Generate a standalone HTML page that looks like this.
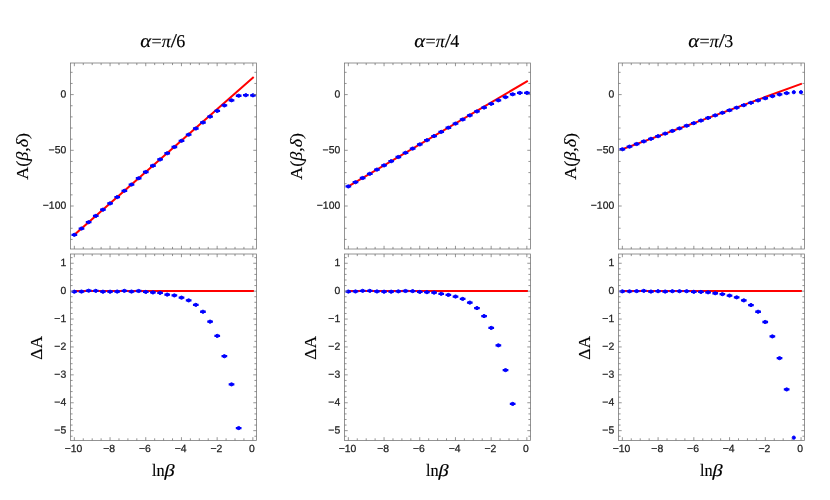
<!DOCTYPE html>
<html><head><meta charset="utf-8"><title>plot</title>
<style>html,body{margin:0;padding:0;background:#fff;}svg{display:block;will-change:transform;}</style>
</head><body>
<svg width="830" height="500" viewBox="0 0 830 500">
<rect width="830" height="500" fill="#fff"/>
<clipPath id="ct0"><rect x="70.5" y="63.0" width="186.0" height="186.0"/></clipPath>
<clipPath id="cb0"><rect x="70.5" y="254.0" width="186.0" height="186.39999999999998"/></clipPath>
<g clip-path="url(#ct0)">
<line x1="74.35" y1="234.80" x2="252.95" y2="77.70" stroke="#f00" stroke-width="2.0" stroke-linecap="square"/>
<g fill="#00f" stroke="#00f">
<circle cx="74.35" cy="234.82" r="1.6"/><path d="M71.50 234.82h5.7" stroke-width="2.3"/>
<circle cx="81.49" cy="228.53" r="1.6"/><path d="M78.64 228.53h5.7" stroke-width="2.3"/>
<circle cx="88.64" cy="222.22" r="1.6"/><path d="M85.79 222.22h5.7" stroke-width="2.3"/>
<circle cx="95.78" cy="215.94" r="1.6"/><path d="M92.93 215.94h5.7" stroke-width="2.3"/>
<circle cx="102.93" cy="209.69" r="1.6"/><path d="M100.08 209.69h5.7" stroke-width="2.3"/>
<circle cx="110.07" cy="203.40" r="1.6"/><path d="M107.22 203.40h5.7" stroke-width="2.3"/>
<circle cx="117.21" cy="197.11" r="1.6"/><path d="M114.36 197.11h5.7" stroke-width="2.3"/>
<circle cx="124.36" cy="190.80" r="1.6"/><path d="M121.51 190.80h5.7" stroke-width="2.3"/>
<circle cx="131.50" cy="184.55" r="1.6"/><path d="M128.65 184.55h5.7" stroke-width="2.3"/>
<circle cx="138.65" cy="178.24" r="1.6"/><path d="M135.80 178.24h5.7" stroke-width="2.3"/>
<circle cx="145.79" cy="171.99" r="1.6"/><path d="M142.94 171.99h5.7" stroke-width="2.3"/>
<circle cx="152.93" cy="165.73" r="1.6"/><path d="M150.08 165.73h5.7" stroke-width="2.3"/>
<circle cx="160.08" cy="159.46" r="1.6"/><path d="M157.23 159.46h5.7" stroke-width="2.3"/>
<circle cx="167.22" cy="153.25" r="1.6"/><path d="M164.37 153.25h5.7" stroke-width="2.3"/>
<circle cx="174.37" cy="147.00" r="1.6"/><path d="M171.52 147.00h5.7" stroke-width="2.3"/>
<circle cx="181.51" cy="140.80" r="1.6"/><path d="M178.66 140.80h5.7" stroke-width="2.3"/>
<circle cx="188.65" cy="134.63" r="1.6"/><path d="M185.80 134.63h5.7" stroke-width="2.3"/>
<circle cx="195.80" cy="128.52" r="1.6"/><path d="M192.95 128.52h5.7" stroke-width="2.3"/>
<circle cx="202.94" cy="122.51" r="1.6"/><path d="M200.09 122.51h5.7" stroke-width="2.3"/>
<circle cx="210.09" cy="116.62" r="1.6"/><path d="M207.24 116.62h5.7" stroke-width="2.3"/>
<circle cx="217.23" cy="110.91" r="1.6"/><path d="M214.38 110.91h5.7" stroke-width="2.3"/>
<circle cx="224.37" cy="105.44" r="1.6"/><path d="M221.52 105.44h5.7" stroke-width="2.3"/>
<circle cx="231.52" cy="100.28" r="1.6"/><path d="M228.67 100.28h5.7" stroke-width="2.3"/>
<circle cx="238.66" cy="95.74" r="1.6"/><path d="M235.81 95.74h5.7" stroke-width="2.3"/>
<circle cx="245.81" cy="95.20" r="1.6"/><path d="M242.96 95.20h5.7" stroke-width="2.3"/>
<circle cx="252.95" cy="95.30" r="1.6"/><path d="M250.10 95.30h5.7" stroke-width="2.3"/>
</g></g>
<g clip-path="url(#cb0)">
<line x1="74.35" y1="291.1" x2="252.95" y2="291.1" stroke="#f00" stroke-width="2.0" stroke-linecap="square"/>
<g fill="#00f" stroke="#00f">
<circle cx="74.35" cy="291.71" r="1.6"/><path d="M71.50 291.71h5.7" stroke-width="2.3"/>
<circle cx="81.49" cy="291.57" r="1.6"/><path d="M78.64 291.57h5.7" stroke-width="2.3"/>
<circle cx="88.64" cy="290.74" r="1.6"/><path d="M85.79 290.74h5.7" stroke-width="2.3"/>
<circle cx="95.78" cy="290.85" r="1.6"/><path d="M92.93 290.85h5.7" stroke-width="2.3"/>
<circle cx="102.93" cy="291.71" r="1.6"/><path d="M100.08 291.71h5.7" stroke-width="2.3"/>
<circle cx="110.07" cy="291.71" r="1.6"/><path d="M107.22 291.71h5.7" stroke-width="2.3"/>
<circle cx="117.21" cy="291.57" r="1.6"/><path d="M114.36 291.57h5.7" stroke-width="2.3"/>
<circle cx="124.36" cy="290.85" r="1.6"/><path d="M121.51 290.85h5.7" stroke-width="2.3"/>
<circle cx="131.50" cy="291.57" r="1.6"/><path d="M128.65 291.57h5.7" stroke-width="2.3"/>
<circle cx="138.65" cy="290.99" r="1.6"/><path d="M135.80 290.99h5.7" stroke-width="2.3"/>
<circle cx="145.79" cy="291.93" r="1.6"/><path d="M142.94 291.93h5.7" stroke-width="2.3"/>
<circle cx="152.93" cy="292.43" r="1.6"/><path d="M150.08 292.43h5.7" stroke-width="2.3"/>
<circle cx="160.08" cy="292.87" r="1.6"/><path d="M157.23 292.87h5.7" stroke-width="2.3"/>
<circle cx="167.22" cy="294.62" r="1.6"/><path d="M164.37 294.62h5.7" stroke-width="2.3"/>
<circle cx="174.37" cy="295.42" r="1.6"/><path d="M171.52 295.42h5.7" stroke-width="2.3"/>
<circle cx="181.51" cy="297.66" r="1.6"/><path d="M178.66 297.66h5.7" stroke-width="2.3"/>
<circle cx="188.65" cy="300.38" r="1.6"/><path d="M185.80 300.38h5.7" stroke-width="2.3"/>
<circle cx="195.80" cy="304.87" r="1.6"/><path d="M192.95 304.87h5.7" stroke-width="2.3"/>
<circle cx="202.94" cy="311.74" r="1.6"/><path d="M200.09 311.74h5.7" stroke-width="2.3"/>
<circle cx="210.09" cy="321.65" r="1.6"/><path d="M207.24 321.65h5.7" stroke-width="2.3"/>
<circle cx="217.23" cy="335.89" r="1.6"/><path d="M214.38 335.89h5.7" stroke-width="2.3"/>
<circle cx="224.37" cy="356.22" r="1.6"/><path d="M221.52 356.22h5.7" stroke-width="2.3"/>
<circle cx="231.52" cy="384.37" r="1.6"/><path d="M228.67 384.37h5.7" stroke-width="2.3"/>
<circle cx="238.66" cy="428.05" r="1.6"/><path d="M235.81 428.05h5.7" stroke-width="2.3"/>
</g></g>
<rect x="70.5" y="63.0" width="186.0" height="186.0" fill="none" stroke="#707070" stroke-width="0.75"/>
<path d="M74.35 63.0v3.2M74.35 249.0v-3.2M83.27 63.0v2.1M83.27 249.0v-2.1M92.20 63.0v2.1M92.20 249.0v-2.1M101.12 63.0v2.1M101.12 249.0v-2.1M110.05 63.0v3.2M110.05 249.0v-3.2M118.97 63.0v2.1M118.97 249.0v-2.1M127.90 63.0v2.1M127.90 249.0v-2.1M136.82 63.0v2.1M136.82 249.0v-2.1M145.75 63.0v3.2M145.75 249.0v-3.2M154.68 63.0v2.1M154.68 249.0v-2.1M163.60 63.0v2.1M163.60 249.0v-2.1M172.53 63.0v2.1M172.53 249.0v-2.1M181.45 63.0v3.2M181.45 249.0v-3.2M190.38 63.0v2.1M190.38 249.0v-2.1M199.30 63.0v2.1M199.30 249.0v-2.1M208.22 63.0v2.1M208.22 249.0v-2.1M217.15 63.0v3.2M217.15 249.0v-3.2M226.08 63.0v2.1M226.08 249.0v-2.1M235.00 63.0v2.1M235.00 249.0v-2.1M243.93 63.0v2.1M243.93 249.0v-2.1M252.85 63.0v3.2M252.85 249.0v-3.2M70.5 239.42h2.1M256.5 239.42h-2.1M70.5 228.28h2.1M256.5 228.28h-2.1M70.5 217.14h2.1M256.5 217.14h-2.1M70.5 206.00h3.2M256.5 206.00h-3.2M70.5 194.86h2.1M256.5 194.86h-2.1M70.5 183.72h2.1M256.5 183.72h-2.1M70.5 172.58h2.1M256.5 172.58h-2.1M70.5 161.44h2.1M256.5 161.44h-2.1M70.5 150.30h3.2M256.5 150.30h-3.2M70.5 139.16h2.1M256.5 139.16h-2.1M70.5 128.02h2.1M256.5 128.02h-2.1M70.5 116.88h2.1M256.5 116.88h-2.1M70.5 105.74h2.1M256.5 105.74h-2.1M70.5 94.60h3.2M256.5 94.60h-3.2M70.5 83.46h2.1M256.5 83.46h-2.1M70.5 72.32h2.1M256.5 72.32h-2.1" stroke="#707070" stroke-width="0.75" fill="none"/>
<rect x="70.5" y="254.0" width="186.0" height="186.39999999999998" fill="none" stroke="#707070" stroke-width="0.75"/>
<path d="M74.35 254.0v3.2M74.35 440.4v-3.2M83.27 254.0v2.1M83.27 440.4v-2.1M92.20 254.0v2.1M92.20 440.4v-2.1M101.12 254.0v2.1M101.12 440.4v-2.1M110.05 254.0v3.2M110.05 440.4v-3.2M118.97 254.0v2.1M118.97 440.4v-2.1M127.90 254.0v2.1M127.90 440.4v-2.1M136.82 254.0v2.1M136.82 440.4v-2.1M145.75 254.0v3.2M145.75 440.4v-3.2M154.68 254.0v2.1M154.68 440.4v-2.1M163.60 254.0v2.1M163.60 440.4v-2.1M172.53 254.0v2.1M172.53 440.4v-2.1M181.45 254.0v3.2M181.45 440.4v-3.2M190.38 254.0v2.1M190.38 440.4v-2.1M199.30 254.0v2.1M199.30 440.4v-2.1M208.22 254.0v2.1M208.22 440.4v-2.1M217.15 254.0v3.2M217.15 440.4v-3.2M226.08 254.0v2.1M226.08 440.4v-2.1M235.00 254.0v2.1M235.00 440.4v-2.1M243.93 254.0v2.1M243.93 440.4v-2.1M252.85 254.0v3.2M252.85 440.4v-3.2M70.5 436.23h2.1M256.5 436.23h-2.1M70.5 430.65h3.2M256.5 430.65h-3.2M70.5 425.07h2.1M256.5 425.07h-2.1M70.5 419.49h2.1M256.5 419.49h-2.1M70.5 413.91h2.1M256.5 413.91h-2.1M70.5 408.33h2.1M256.5 408.33h-2.1M70.5 402.75h3.2M256.5 402.75h-3.2M70.5 397.17h2.1M256.5 397.17h-2.1M70.5 391.59h2.1M256.5 391.59h-2.1M70.5 386.01h2.1M256.5 386.01h-2.1M70.5 380.43h2.1M256.5 380.43h-2.1M70.5 374.85h3.2M256.5 374.85h-3.2M70.5 369.27h2.1M256.5 369.27h-2.1M70.5 363.69h2.1M256.5 363.69h-2.1M70.5 358.11h2.1M256.5 358.11h-2.1M70.5 352.53h2.1M256.5 352.53h-2.1M70.5 346.95h3.2M256.5 346.95h-3.2M70.5 341.37h2.1M256.5 341.37h-2.1M70.5 335.79h2.1M256.5 335.79h-2.1M70.5 330.21h2.1M256.5 330.21h-2.1M70.5 324.63h2.1M256.5 324.63h-2.1M70.5 319.05h3.2M256.5 319.05h-3.2M70.5 313.47h2.1M256.5 313.47h-2.1M70.5 307.89h2.1M256.5 307.89h-2.1M70.5 302.31h2.1M256.5 302.31h-2.1M70.5 296.73h2.1M256.5 296.73h-2.1M70.5 291.15h3.2M256.5 291.15h-3.2M70.5 285.57h2.1M256.5 285.57h-2.1M70.5 279.99h2.1M256.5 279.99h-2.1M70.5 274.41h2.1M256.5 274.41h-2.1M70.5 268.83h2.1M256.5 268.83h-2.1M70.5 263.25h3.2M256.5 263.25h-3.2M70.5 257.67h2.1M256.5 257.67h-2.1" stroke="#707070" stroke-width="0.75" fill="none"/>
<g font-family="Liberation Sans, sans-serif" font-size="10.4" fill="#222" stroke="#222" stroke-width="0.25">
<text transform="translate(66.20,97.45) rotate(0.05)" text-anchor="end">0</text>
<text transform="translate(66.20,153.15) rotate(0.05)" text-anchor="end">−50</text>
<text transform="translate(66.20,208.85) rotate(0.05)" text-anchor="end">−100</text>
<text transform="translate(66.20,266.10) rotate(0.05)" text-anchor="end">1</text>
<text transform="translate(66.20,294.00) rotate(0.05)" text-anchor="end">0</text>
<text transform="translate(66.20,321.90) rotate(0.05)" text-anchor="end">−1</text>
<text transform="translate(66.20,349.80) rotate(0.05)" text-anchor="end">−2</text>
<text transform="translate(66.20,377.70) rotate(0.05)" text-anchor="end">−3</text>
<text transform="translate(66.20,405.60) rotate(0.05)" text-anchor="end">−4</text>
<text transform="translate(66.20,433.50) rotate(0.05)" text-anchor="end">−5</text>
<text transform="translate(73.50,452.10) rotate(0.05)" text-anchor="middle">−10</text>
<text transform="translate(109.20,452.10) rotate(0.05)" text-anchor="middle">−8</text>
<text transform="translate(144.90,452.10) rotate(0.05)" text-anchor="middle">−6</text>
<text transform="translate(180.60,452.10) rotate(0.05)" text-anchor="middle">−4</text>
<text transform="translate(216.30,452.10) rotate(0.05)" text-anchor="middle">−2</text>
<text transform="translate(252.00,452.10) rotate(0.05)" text-anchor="middle">0</text>
</g>
<g font-family="Liberation Serif, serif" font-size="18" fill="#000" stroke="#000" stroke-width="0.15">
<text transform="translate(140.30,47.1) rotate(0.05) scale(1.15,1.04)" font-style="italic">α</text>
<text transform="translate(151.62,47.1) rotate(0.05)">=</text>
<text transform="translate(161.78,47.1) rotate(0.05)" font-style="italic">π</text>
<text transform="translate(170.85,47.1) rotate(0.05) scale(1.25,1.08)">/</text>
<text transform="translate(176.25,47.1) rotate(0.05)">6</text>
<text transform="translate(152.00,475.9) rotate(0.05) scale(0.9,0.97)">ln</text>
<text transform="translate(164.40,475.9) rotate(0.05) scale(1.13,0.95)" font-style="italic">β</text>
<text transform="translate(28.30,156.30) rotate(-90) scale(1.09,1)" text-anchor="middle" font-size="16.5">A(<tspan font-style="italic">β</tspan>,<tspan font-style="italic">δ</tspan>)</text>
<text transform="translate(41.70,347.90) rotate(-90) scale(1.0,1)" text-anchor="middle" font-size="17.5">ΔA</text>
</g>
<clipPath id="ct1"><rect x="344.5" y="63.0" width="186.0" height="186.0"/></clipPath>
<clipPath id="cb1"><rect x="344.5" y="254.0" width="186.0" height="186.39999999999998"/></clipPath>
<g clip-path="url(#ct1)">
<line x1="348.35" y1="186.40" x2="526.95" y2="81.35" stroke="#f00" stroke-width="2.0" stroke-linecap="square"/>
<g fill="#00f" stroke="#00f">
<circle cx="348.35" cy="186.42" r="1.6"/><path d="M345.50 186.42h5.7" stroke-width="2.3"/>
<circle cx="355.49" cy="182.21" r="1.6"/><path d="M352.64 182.21h5.7" stroke-width="2.3"/>
<circle cx="362.64" cy="177.99" r="1.6"/><path d="M359.79 177.99h5.7" stroke-width="2.3"/>
<circle cx="369.78" cy="173.78" r="1.6"/><path d="M366.93 173.78h5.7" stroke-width="2.3"/>
<circle cx="376.93" cy="169.61" r="1.6"/><path d="M374.08 169.61h5.7" stroke-width="2.3"/>
<circle cx="384.07" cy="165.41" r="1.6"/><path d="M381.22 165.41h5.7" stroke-width="2.3"/>
<circle cx="391.21" cy="161.21" r="1.6"/><path d="M388.36 161.21h5.7" stroke-width="2.3"/>
<circle cx="398.36" cy="157.00" r="1.6"/><path d="M395.51 157.00h5.7" stroke-width="2.3"/>
<circle cx="405.50" cy="152.78" r="1.6"/><path d="M402.65 152.78h5.7" stroke-width="2.3"/>
<circle cx="412.65" cy="148.58" r="1.6"/><path d="M409.80 148.58h5.7" stroke-width="2.3"/>
<circle cx="419.79" cy="144.41" r="1.6"/><path d="M416.94 144.41h5.7" stroke-width="2.3"/>
<circle cx="426.93" cy="140.22" r="1.6"/><path d="M424.08 140.22h5.7" stroke-width="2.3"/>
<circle cx="434.08" cy="136.04" r="1.6"/><path d="M431.23 136.04h5.7" stroke-width="2.3"/>
<circle cx="441.22" cy="131.88" r="1.6"/><path d="M438.37 131.88h5.7" stroke-width="2.3"/>
<circle cx="448.37" cy="127.73" r="1.6"/><path d="M445.52 127.73h5.7" stroke-width="2.3"/>
<circle cx="455.51" cy="123.59" r="1.6"/><path d="M452.66 123.59h5.7" stroke-width="2.3"/>
<circle cx="462.65" cy="119.48" r="1.6"/><path d="M459.80 119.48h5.7" stroke-width="2.3"/>
<circle cx="469.80" cy="115.43" r="1.6"/><path d="M466.95 115.43h5.7" stroke-width="2.3"/>
<circle cx="476.94" cy="111.44" r="1.6"/><path d="M474.09 111.44h5.7" stroke-width="2.3"/>
<circle cx="484.09" cy="107.56" r="1.6"/><path d="M481.24 107.56h5.7" stroke-width="2.3"/>
<circle cx="491.23" cy="103.83" r="1.6"/><path d="M488.38 103.83h5.7" stroke-width="2.3"/>
<circle cx="498.37" cy="100.32" r="1.6"/><path d="M495.52 100.32h5.7" stroke-width="2.3"/>
<circle cx="505.52" cy="97.11" r="1.6"/><path d="M502.67 97.11h5.7" stroke-width="2.3"/>
<circle cx="512.66" cy="94.26" r="1.6"/><path d="M509.81 94.26h5.7" stroke-width="2.3"/>
<circle cx="519.81" cy="92.90" r="1.6"/><path d="M516.96 92.90h5.7" stroke-width="2.3"/>
<circle cx="526.95" cy="92.90" r="1.6"/><path d="M524.10 92.90h5.7" stroke-width="2.3"/>
</g></g>
<g clip-path="url(#cb1)">
<line x1="348.35" y1="291.1" x2="526.95" y2="291.1" stroke="#f00" stroke-width="2.0" stroke-linecap="square"/>
<g fill="#00f" stroke="#00f">
<circle cx="348.35" cy="291.57" r="1.6"/><path d="M345.50 291.57h5.7" stroke-width="2.3"/>
<circle cx="355.49" cy="291.46" r="1.6"/><path d="M352.64 291.46h5.7" stroke-width="2.3"/>
<circle cx="362.64" cy="290.85" r="1.6"/><path d="M359.79 290.85h5.7" stroke-width="2.3"/>
<circle cx="369.78" cy="290.85" r="1.6"/><path d="M366.93 290.85h5.7" stroke-width="2.3"/>
<circle cx="376.93" cy="291.46" r="1.6"/><path d="M374.08 291.46h5.7" stroke-width="2.3"/>
<circle cx="384.07" cy="291.71" r="1.6"/><path d="M381.22 291.71h5.7" stroke-width="2.3"/>
<circle cx="391.21" cy="291.71" r="1.6"/><path d="M388.36 291.71h5.7" stroke-width="2.3"/>
<circle cx="398.36" cy="291.35" r="1.6"/><path d="M395.51 291.35h5.7" stroke-width="2.3"/>
<circle cx="405.50" cy="290.99" r="1.6"/><path d="M402.65 290.99h5.7" stroke-width="2.3"/>
<circle cx="412.65" cy="291.10" r="1.6"/><path d="M409.80 291.10h5.7" stroke-width="2.3"/>
<circle cx="419.79" cy="291.93" r="1.6"/><path d="M416.94 291.93h5.7" stroke-width="2.3"/>
<circle cx="426.93" cy="292.18" r="1.6"/><path d="M424.08 292.18h5.7" stroke-width="2.3"/>
<circle cx="434.08" cy="292.62" r="1.6"/><path d="M431.23 292.62h5.7" stroke-width="2.3"/>
<circle cx="441.22" cy="293.79" r="1.6"/><path d="M438.37 293.79h5.7" stroke-width="2.3"/>
<circle cx="448.37" cy="294.95" r="1.6"/><path d="M445.52 294.95h5.7" stroke-width="2.3"/>
<circle cx="455.51" cy="296.53" r="1.6"/><path d="M452.66 296.53h5.7" stroke-width="2.3"/>
<circle cx="462.65" cy="298.94" r="1.6"/><path d="M459.80 298.94h5.7" stroke-width="2.3"/>
<circle cx="469.80" cy="302.62" r="1.6"/><path d="M466.95 302.62h5.7" stroke-width="2.3"/>
<circle cx="476.94" cy="308.05" r="1.6"/><path d="M474.09 308.05h5.7" stroke-width="2.3"/>
<circle cx="484.09" cy="316.06" r="1.6"/><path d="M481.24 316.06h5.7" stroke-width="2.3"/>
<circle cx="491.23" cy="327.91" r="1.6"/><path d="M488.38 327.91h5.7" stroke-width="2.3"/>
<circle cx="498.37" cy="345.34" r="1.6"/><path d="M495.52 345.34h5.7" stroke-width="2.3"/>
<circle cx="505.52" cy="370.10" r="1.6"/><path d="M502.67 370.10h5.7" stroke-width="2.3"/>
<circle cx="512.66" cy="403.92" r="1.6"/><path d="M509.81 403.92h5.7" stroke-width="2.3"/>
</g></g>
<rect x="344.5" y="63.0" width="186.0" height="186.0" fill="none" stroke="#707070" stroke-width="0.75"/>
<path d="M348.35 63.0v3.2M348.35 249.0v-3.2M357.28 63.0v2.1M357.28 249.0v-2.1M366.20 63.0v2.1M366.20 249.0v-2.1M375.12 63.0v2.1M375.12 249.0v-2.1M384.05 63.0v3.2M384.05 249.0v-3.2M392.98 63.0v2.1M392.98 249.0v-2.1M401.90 63.0v2.1M401.90 249.0v-2.1M410.83 63.0v2.1M410.83 249.0v-2.1M419.75 63.0v3.2M419.75 249.0v-3.2M428.68 63.0v2.1M428.68 249.0v-2.1M437.60 63.0v2.1M437.60 249.0v-2.1M446.53 63.0v2.1M446.53 249.0v-2.1M455.45 63.0v3.2M455.45 249.0v-3.2M464.38 63.0v2.1M464.38 249.0v-2.1M473.30 63.0v2.1M473.30 249.0v-2.1M482.23 63.0v2.1M482.23 249.0v-2.1M491.15 63.0v3.2M491.15 249.0v-3.2M500.08 63.0v2.1M500.08 249.0v-2.1M509.00 63.0v2.1M509.00 249.0v-2.1M517.93 63.0v2.1M517.93 249.0v-2.1M526.85 63.0v3.2M526.85 249.0v-3.2M344.5 239.42h2.1M530.5 239.42h-2.1M344.5 228.28h2.1M530.5 228.28h-2.1M344.5 217.14h2.1M530.5 217.14h-2.1M344.5 206.00h3.2M530.5 206.00h-3.2M344.5 194.86h2.1M530.5 194.86h-2.1M344.5 183.72h2.1M530.5 183.72h-2.1M344.5 172.58h2.1M530.5 172.58h-2.1M344.5 161.44h2.1M530.5 161.44h-2.1M344.5 150.30h3.2M530.5 150.30h-3.2M344.5 139.16h2.1M530.5 139.16h-2.1M344.5 128.02h2.1M530.5 128.02h-2.1M344.5 116.88h2.1M530.5 116.88h-2.1M344.5 105.74h2.1M530.5 105.74h-2.1M344.5 94.60h3.2M530.5 94.60h-3.2M344.5 83.46h2.1M530.5 83.46h-2.1M344.5 72.32h2.1M530.5 72.32h-2.1" stroke="#707070" stroke-width="0.75" fill="none"/>
<rect x="344.5" y="254.0" width="186.0" height="186.39999999999998" fill="none" stroke="#707070" stroke-width="0.75"/>
<path d="M348.35 254.0v3.2M348.35 440.4v-3.2M357.28 254.0v2.1M357.28 440.4v-2.1M366.20 254.0v2.1M366.20 440.4v-2.1M375.12 254.0v2.1M375.12 440.4v-2.1M384.05 254.0v3.2M384.05 440.4v-3.2M392.98 254.0v2.1M392.98 440.4v-2.1M401.90 254.0v2.1M401.90 440.4v-2.1M410.83 254.0v2.1M410.83 440.4v-2.1M419.75 254.0v3.2M419.75 440.4v-3.2M428.68 254.0v2.1M428.68 440.4v-2.1M437.60 254.0v2.1M437.60 440.4v-2.1M446.53 254.0v2.1M446.53 440.4v-2.1M455.45 254.0v3.2M455.45 440.4v-3.2M464.38 254.0v2.1M464.38 440.4v-2.1M473.30 254.0v2.1M473.30 440.4v-2.1M482.23 254.0v2.1M482.23 440.4v-2.1M491.15 254.0v3.2M491.15 440.4v-3.2M500.08 254.0v2.1M500.08 440.4v-2.1M509.00 254.0v2.1M509.00 440.4v-2.1M517.93 254.0v2.1M517.93 440.4v-2.1M526.85 254.0v3.2M526.85 440.4v-3.2M344.5 436.23h2.1M530.5 436.23h-2.1M344.5 430.65h3.2M530.5 430.65h-3.2M344.5 425.07h2.1M530.5 425.07h-2.1M344.5 419.49h2.1M530.5 419.49h-2.1M344.5 413.91h2.1M530.5 413.91h-2.1M344.5 408.33h2.1M530.5 408.33h-2.1M344.5 402.75h3.2M530.5 402.75h-3.2M344.5 397.17h2.1M530.5 397.17h-2.1M344.5 391.59h2.1M530.5 391.59h-2.1M344.5 386.01h2.1M530.5 386.01h-2.1M344.5 380.43h2.1M530.5 380.43h-2.1M344.5 374.85h3.2M530.5 374.85h-3.2M344.5 369.27h2.1M530.5 369.27h-2.1M344.5 363.69h2.1M530.5 363.69h-2.1M344.5 358.11h2.1M530.5 358.11h-2.1M344.5 352.53h2.1M530.5 352.53h-2.1M344.5 346.95h3.2M530.5 346.95h-3.2M344.5 341.37h2.1M530.5 341.37h-2.1M344.5 335.79h2.1M530.5 335.79h-2.1M344.5 330.21h2.1M530.5 330.21h-2.1M344.5 324.63h2.1M530.5 324.63h-2.1M344.5 319.05h3.2M530.5 319.05h-3.2M344.5 313.47h2.1M530.5 313.47h-2.1M344.5 307.89h2.1M530.5 307.89h-2.1M344.5 302.31h2.1M530.5 302.31h-2.1M344.5 296.73h2.1M530.5 296.73h-2.1M344.5 291.15h3.2M530.5 291.15h-3.2M344.5 285.57h2.1M530.5 285.57h-2.1M344.5 279.99h2.1M530.5 279.99h-2.1M344.5 274.41h2.1M530.5 274.41h-2.1M344.5 268.83h2.1M530.5 268.83h-2.1M344.5 263.25h3.2M530.5 263.25h-3.2M344.5 257.67h2.1M530.5 257.67h-2.1" stroke="#707070" stroke-width="0.75" fill="none"/>
<g font-family="Liberation Sans, sans-serif" font-size="10.4" fill="#222" stroke="#222" stroke-width="0.25">
<text transform="translate(340.20,97.45) rotate(0.05)" text-anchor="end">0</text>
<text transform="translate(340.20,153.15) rotate(0.05)" text-anchor="end">−50</text>
<text transform="translate(340.20,208.85) rotate(0.05)" text-anchor="end">−100</text>
<text transform="translate(340.20,266.10) rotate(0.05)" text-anchor="end">1</text>
<text transform="translate(340.20,294.00) rotate(0.05)" text-anchor="end">0</text>
<text transform="translate(340.20,321.90) rotate(0.05)" text-anchor="end">−1</text>
<text transform="translate(340.20,349.80) rotate(0.05)" text-anchor="end">−2</text>
<text transform="translate(340.20,377.70) rotate(0.05)" text-anchor="end">−3</text>
<text transform="translate(340.20,405.60) rotate(0.05)" text-anchor="end">−4</text>
<text transform="translate(340.20,433.50) rotate(0.05)" text-anchor="end">−5</text>
<text transform="translate(347.50,452.10) rotate(0.05)" text-anchor="middle">−10</text>
<text transform="translate(383.20,452.10) rotate(0.05)" text-anchor="middle">−8</text>
<text transform="translate(418.90,452.10) rotate(0.05)" text-anchor="middle">−6</text>
<text transform="translate(454.60,452.10) rotate(0.05)" text-anchor="middle">−4</text>
<text transform="translate(490.30,452.10) rotate(0.05)" text-anchor="middle">−2</text>
<text transform="translate(526.00,452.10) rotate(0.05)" text-anchor="middle">0</text>
</g>
<g font-family="Liberation Serif, serif" font-size="18" fill="#000" stroke="#000" stroke-width="0.15">
<text transform="translate(414.30,47.1) rotate(0.05) scale(1.15,1.04)" font-style="italic">α</text>
<text transform="translate(425.62,47.1) rotate(0.05)">=</text>
<text transform="translate(435.78,47.1) rotate(0.05)" font-style="italic">π</text>
<text transform="translate(444.85,47.1) rotate(0.05) scale(1.25,1.08)">/</text>
<text transform="translate(450.25,47.1) rotate(0.05)">4</text>
<text transform="translate(426.00,475.9) rotate(0.05) scale(0.9,0.97)">ln</text>
<text transform="translate(438.40,475.9) rotate(0.05) scale(1.13,0.95)" font-style="italic">β</text>
<text transform="translate(302.30,156.30) rotate(-90) scale(1.09,1)" text-anchor="middle" font-size="16.5">A(<tspan font-style="italic">β</tspan>,<tspan font-style="italic">δ</tspan>)</text>
<text transform="translate(315.70,347.90) rotate(-90) scale(1.0,1)" text-anchor="middle" font-size="17.5">ΔA</text>
</g>
<clipPath id="ct2"><rect x="618.5" y="63.0" width="186.0" height="186.0"/></clipPath>
<clipPath id="cb2"><rect x="618.5" y="254.0" width="186.0" height="186.39999999999998"/></clipPath>
<g clip-path="url(#ct2)">
<line x1="622.35" y1="149.24" x2="800.95" y2="83.95" stroke="#f00" stroke-width="2.0" stroke-linecap="square"/>
<g fill="#00f" stroke="#00f">
<circle cx="622.35" cy="149.25" r="1.6"/><path d="M619.50 149.25h5.7" stroke-width="2.3"/>
<circle cx="629.49" cy="146.64" r="1.6"/><path d="M626.64 146.64h5.7" stroke-width="2.3"/>
<circle cx="636.64" cy="144.02" r="1.6"/><path d="M633.79 144.02h5.7" stroke-width="2.3"/>
<circle cx="643.78" cy="141.40" r="1.6"/><path d="M640.93 141.40h5.7" stroke-width="2.3"/>
<circle cx="650.93" cy="138.81" r="1.6"/><path d="M648.08 138.81h5.7" stroke-width="2.3"/>
<circle cx="658.07" cy="136.19" r="1.6"/><path d="M655.22 136.19h5.7" stroke-width="2.3"/>
<circle cx="665.21" cy="133.59" r="1.6"/><path d="M662.36 133.59h5.7" stroke-width="2.3"/>
<circle cx="672.36" cy="130.96" r="1.6"/><path d="M669.51 130.96h5.7" stroke-width="2.3"/>
<circle cx="679.50" cy="128.35" r="1.6"/><path d="M676.65 128.35h5.7" stroke-width="2.3"/>
<circle cx="686.65" cy="125.74" r="1.6"/><path d="M683.80 125.74h5.7" stroke-width="2.3"/>
<circle cx="693.79" cy="123.15" r="1.6"/><path d="M690.94 123.15h5.7" stroke-width="2.3"/>
<circle cx="700.93" cy="120.55" r="1.6"/><path d="M698.08 120.55h5.7" stroke-width="2.3"/>
<circle cx="708.08" cy="117.95" r="1.6"/><path d="M705.23 117.95h5.7" stroke-width="2.3"/>
<circle cx="715.22" cy="115.37" r="1.6"/><path d="M712.37 115.37h5.7" stroke-width="2.3"/>
<circle cx="722.37" cy="112.80" r="1.6"/><path d="M719.52 112.80h5.7" stroke-width="2.3"/>
<circle cx="729.51" cy="110.25" r="1.6"/><path d="M726.66 110.25h5.7" stroke-width="2.3"/>
<circle cx="736.65" cy="107.70" r="1.6"/><path d="M733.80 107.70h5.7" stroke-width="2.3"/>
<circle cx="743.80" cy="105.21" r="1.6"/><path d="M740.95 105.21h5.7" stroke-width="2.3"/>
<circle cx="750.94" cy="102.79" r="1.6"/><path d="M748.09 102.79h5.7" stroke-width="2.3"/>
<circle cx="758.09" cy="100.44" r="1.6"/><path d="M755.24 100.44h5.7" stroke-width="2.3"/>
<circle cx="765.23" cy="98.24" r="1.6"/><path d="M762.38 98.24h5.7" stroke-width="2.3"/>
<circle cx="772.37" cy="96.20" r="1.6"/><path d="M769.52 96.20h5.7" stroke-width="2.3"/>
<circle cx="779.52" cy="94.46" r="1.6"/><path d="M776.67 94.46h5.7" stroke-width="2.3"/>
<circle cx="786.66" cy="93.10" r="1.6"/><path d="M783.81 93.10h5.7" stroke-width="2.3"/>
<circle cx="793.81" cy="92.20" r="1.6"/>
<circle cx="800.95" cy="92.20" r="1.6"/>
</g></g>
<g clip-path="url(#cb2)">
<line x1="622.35" y1="291.1" x2="800.95" y2="291.1" stroke="#f00" stroke-width="2.0" stroke-linecap="square"/>
<g fill="#00f" stroke="#00f">
<circle cx="622.35" cy="291.35" r="1.6"/><path d="M619.50 291.35h5.7" stroke-width="2.3"/>
<circle cx="629.49" cy="291.35" r="1.6"/><path d="M626.64 291.35h5.7" stroke-width="2.3"/>
<circle cx="636.64" cy="291.10" r="1.6"/><path d="M633.79 291.10h5.7" stroke-width="2.3"/>
<circle cx="643.78" cy="290.85" r="1.6"/><path d="M640.93 290.85h5.7" stroke-width="2.3"/>
<circle cx="650.93" cy="291.57" r="1.6"/><path d="M648.08 291.57h5.7" stroke-width="2.3"/>
<circle cx="658.07" cy="291.21" r="1.6"/><path d="M655.22 291.21h5.7" stroke-width="2.3"/>
<circle cx="665.21" cy="291.57" r="1.6"/><path d="M662.36 291.57h5.7" stroke-width="2.3"/>
<circle cx="672.36" cy="291.21" r="1.6"/><path d="M669.51 291.21h5.7" stroke-width="2.3"/>
<circle cx="679.50" cy="291.21" r="1.6"/><path d="M676.65 291.21h5.7" stroke-width="2.3"/>
<circle cx="686.65" cy="291.21" r="1.6"/><path d="M683.80 291.21h5.7" stroke-width="2.3"/>
<circle cx="693.79" cy="291.82" r="1.6"/><path d="M690.94 291.82h5.7" stroke-width="2.3"/>
<circle cx="700.93" cy="291.93" r="1.6"/><path d="M698.08 291.93h5.7" stroke-width="2.3"/>
<circle cx="708.08" cy="292.32" r="1.6"/><path d="M705.23 292.32h5.7" stroke-width="2.3"/>
<circle cx="715.22" cy="293.23" r="1.6"/><path d="M712.37 293.23h5.7" stroke-width="2.3"/>
<circle cx="722.37" cy="294.15" r="1.6"/><path d="M719.52 294.15h5.7" stroke-width="2.3"/>
<circle cx="729.51" cy="295.59" r="1.6"/><path d="M726.66 295.59h5.7" stroke-width="2.3"/>
<circle cx="736.65" cy="297.33" r="1.6"/><path d="M733.80 297.33h5.7" stroke-width="2.3"/>
<circle cx="743.80" cy="300.38" r="1.6"/><path d="M740.95 300.38h5.7" stroke-width="2.3"/>
<circle cx="750.94" cy="305.03" r="1.6"/><path d="M748.09 305.03h5.7" stroke-width="2.3"/>
<circle cx="758.09" cy="311.74" r="1.6"/><path d="M755.24 311.74h5.7" stroke-width="2.3"/>
<circle cx="765.23" cy="321.99" r="1.6"/><path d="M762.38 321.99h5.7" stroke-width="2.3"/>
<circle cx="772.37" cy="336.39" r="1.6"/><path d="M769.52 336.39h5.7" stroke-width="2.3"/>
<circle cx="779.52" cy="358.13" r="1.6"/><path d="M776.67 358.13h5.7" stroke-width="2.3"/>
<circle cx="786.66" cy="389.44" r="1.6"/><path d="M783.81 389.44h5.7" stroke-width="2.3"/>
<circle cx="793.81" cy="437.63" r="1.6"/>
</g></g>
<rect x="618.5" y="63.0" width="186.0" height="186.0" fill="none" stroke="#707070" stroke-width="0.75"/>
<path d="M622.35 63.0v3.2M622.35 249.0v-3.2M631.28 63.0v2.1M631.28 249.0v-2.1M640.22 63.0v2.1M640.22 249.0v-2.1M649.15 63.0v2.1M649.15 249.0v-2.1M658.09 63.0v3.2M658.09 249.0v-3.2M667.02 63.0v2.1M667.02 249.0v-2.1M675.96 63.0v2.1M675.96 249.0v-2.1M684.89 63.0v2.1M684.89 249.0v-2.1M693.83 63.0v3.2M693.83 249.0v-3.2M702.76 63.0v2.1M702.76 249.0v-2.1M711.70 63.0v2.1M711.70 249.0v-2.1M720.63 63.0v2.1M720.63 249.0v-2.1M729.57 63.0v3.2M729.57 249.0v-3.2M738.50 63.0v2.1M738.50 249.0v-2.1M747.44 63.0v2.1M747.44 249.0v-2.1M756.38 63.0v2.1M756.38 249.0v-2.1M765.31 63.0v3.2M765.31 249.0v-3.2M774.25 63.0v2.1M774.25 249.0v-2.1M783.18 63.0v2.1M783.18 249.0v-2.1M792.12 63.0v2.1M792.12 249.0v-2.1M801.05 63.0v3.2M801.05 249.0v-3.2M618.5 239.42h2.1M804.5 239.42h-2.1M618.5 228.28h2.1M804.5 228.28h-2.1M618.5 217.14h2.1M804.5 217.14h-2.1M618.5 206.00h3.2M804.5 206.00h-3.2M618.5 194.86h2.1M804.5 194.86h-2.1M618.5 183.72h2.1M804.5 183.72h-2.1M618.5 172.58h2.1M804.5 172.58h-2.1M618.5 161.44h2.1M804.5 161.44h-2.1M618.5 150.30h3.2M804.5 150.30h-3.2M618.5 139.16h2.1M804.5 139.16h-2.1M618.5 128.02h2.1M804.5 128.02h-2.1M618.5 116.88h2.1M804.5 116.88h-2.1M618.5 105.74h2.1M804.5 105.74h-2.1M618.5 94.60h3.2M804.5 94.60h-3.2M618.5 83.46h2.1M804.5 83.46h-2.1M618.5 72.32h2.1M804.5 72.32h-2.1" stroke="#707070" stroke-width="0.75" fill="none"/>
<rect x="618.5" y="254.0" width="186.0" height="186.39999999999998" fill="none" stroke="#707070" stroke-width="0.75"/>
<path d="M622.35 254.0v3.2M622.35 440.4v-3.2M631.28 254.0v2.1M631.28 440.4v-2.1M640.22 254.0v2.1M640.22 440.4v-2.1M649.15 254.0v2.1M649.15 440.4v-2.1M658.09 254.0v3.2M658.09 440.4v-3.2M667.02 254.0v2.1M667.02 440.4v-2.1M675.96 254.0v2.1M675.96 440.4v-2.1M684.89 254.0v2.1M684.89 440.4v-2.1M693.83 254.0v3.2M693.83 440.4v-3.2M702.76 254.0v2.1M702.76 440.4v-2.1M711.70 254.0v2.1M711.70 440.4v-2.1M720.63 254.0v2.1M720.63 440.4v-2.1M729.57 254.0v3.2M729.57 440.4v-3.2M738.50 254.0v2.1M738.50 440.4v-2.1M747.44 254.0v2.1M747.44 440.4v-2.1M756.38 254.0v2.1M756.38 440.4v-2.1M765.31 254.0v3.2M765.31 440.4v-3.2M774.25 254.0v2.1M774.25 440.4v-2.1M783.18 254.0v2.1M783.18 440.4v-2.1M792.12 254.0v2.1M792.12 440.4v-2.1M801.05 254.0v3.2M801.05 440.4v-3.2M618.5 436.23h2.1M804.5 436.23h-2.1M618.5 430.65h3.2M804.5 430.65h-3.2M618.5 425.07h2.1M804.5 425.07h-2.1M618.5 419.49h2.1M804.5 419.49h-2.1M618.5 413.91h2.1M804.5 413.91h-2.1M618.5 408.33h2.1M804.5 408.33h-2.1M618.5 402.75h3.2M804.5 402.75h-3.2M618.5 397.17h2.1M804.5 397.17h-2.1M618.5 391.59h2.1M804.5 391.59h-2.1M618.5 386.01h2.1M804.5 386.01h-2.1M618.5 380.43h2.1M804.5 380.43h-2.1M618.5 374.85h3.2M804.5 374.85h-3.2M618.5 369.27h2.1M804.5 369.27h-2.1M618.5 363.69h2.1M804.5 363.69h-2.1M618.5 358.11h2.1M804.5 358.11h-2.1M618.5 352.53h2.1M804.5 352.53h-2.1M618.5 346.95h3.2M804.5 346.95h-3.2M618.5 341.37h2.1M804.5 341.37h-2.1M618.5 335.79h2.1M804.5 335.79h-2.1M618.5 330.21h2.1M804.5 330.21h-2.1M618.5 324.63h2.1M804.5 324.63h-2.1M618.5 319.05h3.2M804.5 319.05h-3.2M618.5 313.47h2.1M804.5 313.47h-2.1M618.5 307.89h2.1M804.5 307.89h-2.1M618.5 302.31h2.1M804.5 302.31h-2.1M618.5 296.73h2.1M804.5 296.73h-2.1M618.5 291.15h3.2M804.5 291.15h-3.2M618.5 285.57h2.1M804.5 285.57h-2.1M618.5 279.99h2.1M804.5 279.99h-2.1M618.5 274.41h2.1M804.5 274.41h-2.1M618.5 268.83h2.1M804.5 268.83h-2.1M618.5 263.25h3.2M804.5 263.25h-3.2M618.5 257.67h2.1M804.5 257.67h-2.1" stroke="#707070" stroke-width="0.75" fill="none"/>
<g font-family="Liberation Sans, sans-serif" font-size="10.4" fill="#222" stroke="#222" stroke-width="0.25">
<text transform="translate(614.20,97.45) rotate(0.05)" text-anchor="end">0</text>
<text transform="translate(614.20,153.15) rotate(0.05)" text-anchor="end">−50</text>
<text transform="translate(614.20,208.85) rotate(0.05)" text-anchor="end">−100</text>
<text transform="translate(614.20,266.10) rotate(0.05)" text-anchor="end">1</text>
<text transform="translate(614.20,294.00) rotate(0.05)" text-anchor="end">0</text>
<text transform="translate(614.20,321.90) rotate(0.05)" text-anchor="end">−1</text>
<text transform="translate(614.20,349.80) rotate(0.05)" text-anchor="end">−2</text>
<text transform="translate(614.20,377.70) rotate(0.05)" text-anchor="end">−3</text>
<text transform="translate(614.20,405.60) rotate(0.05)" text-anchor="end">−4</text>
<text transform="translate(614.20,433.50) rotate(0.05)" text-anchor="end">−5</text>
<text transform="translate(621.50,452.10) rotate(0.05)" text-anchor="middle">−10</text>
<text transform="translate(657.24,452.10) rotate(0.05)" text-anchor="middle">−8</text>
<text transform="translate(692.98,452.10) rotate(0.05)" text-anchor="middle">−6</text>
<text transform="translate(728.72,452.10) rotate(0.05)" text-anchor="middle">−4</text>
<text transform="translate(764.46,452.10) rotate(0.05)" text-anchor="middle">−2</text>
<text transform="translate(800.20,452.10) rotate(0.05)" text-anchor="middle">0</text>
</g>
<g font-family="Liberation Serif, serif" font-size="18" fill="#000" stroke="#000" stroke-width="0.15">
<text transform="translate(688.30,47.1) rotate(0.05) scale(1.15,1.04)" font-style="italic">α</text>
<text transform="translate(699.62,47.1) rotate(0.05)">=</text>
<text transform="translate(709.78,47.1) rotate(0.05)" font-style="italic">π</text>
<text transform="translate(718.85,47.1) rotate(0.05) scale(1.25,1.08)">/</text>
<text transform="translate(724.25,47.1) rotate(0.05)">3</text>
<text transform="translate(700.00,475.9) rotate(0.05) scale(0.9,0.97)">ln</text>
<text transform="translate(712.40,475.9) rotate(0.05) scale(1.13,0.95)" font-style="italic">β</text>
<text transform="translate(576.30,156.30) rotate(-90) scale(1.09,1)" text-anchor="middle" font-size="16.5">A(<tspan font-style="italic">β</tspan>,<tspan font-style="italic">δ</tspan>)</text>
<text transform="translate(589.70,347.90) rotate(-90) scale(1.0,1)" text-anchor="middle" font-size="17.5">ΔA</text>
</g>
</svg>
</body></html>
